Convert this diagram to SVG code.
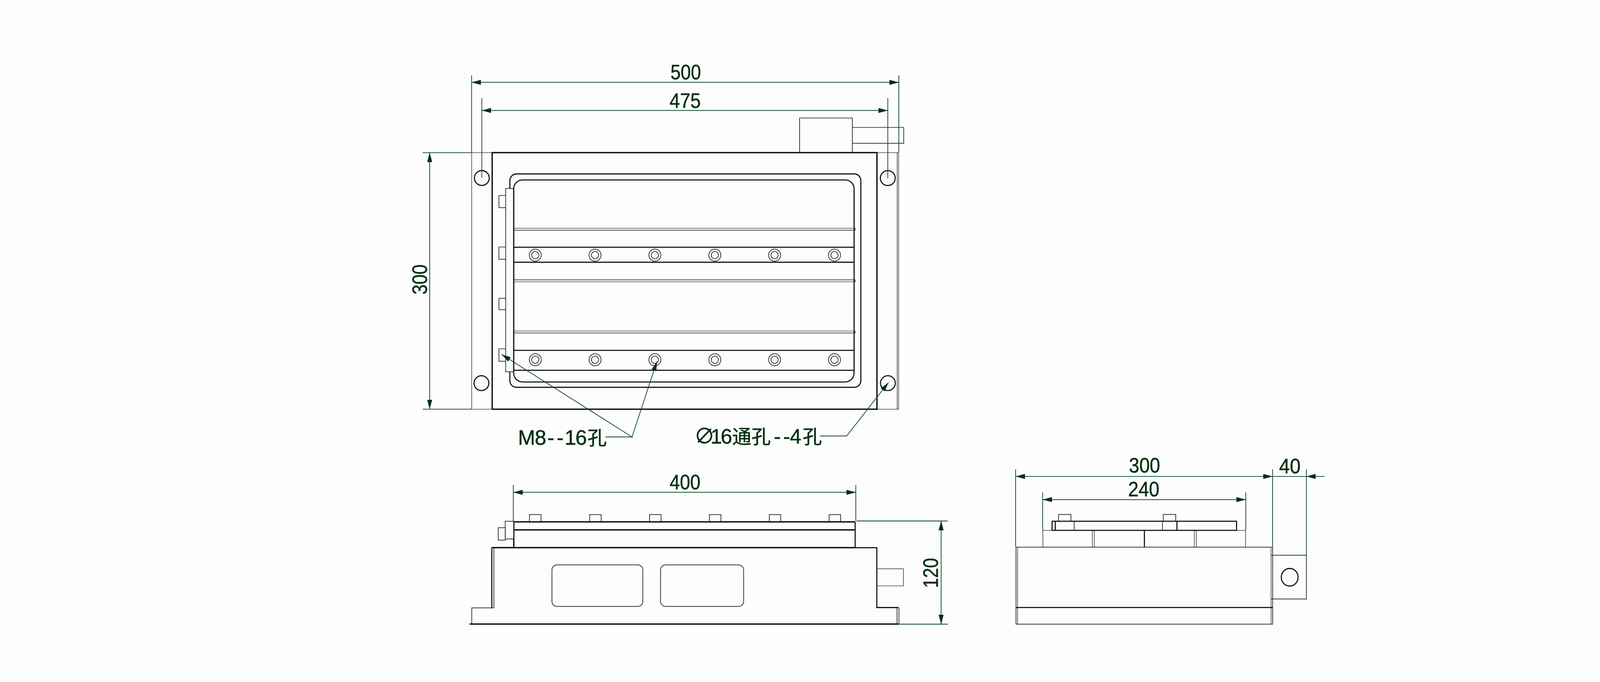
<svg xmlns="http://www.w3.org/2000/svg" width="4144" height="1745" viewBox="0 0 4144 1745">
<style>
.h{fill:none;stroke:#0d0d0d;stroke-width:3.4}
.m{fill:none;stroke:#111;stroke-width:2.8}
.t{fill:none;stroke:#1c1c1c;stroke-width:1.7}
.g{fill:none;stroke:#4a4a4a;stroke-width:1.7}
.d{fill:none;stroke:#22604a;stroke-width:2.2}
.e{fill:none;stroke:#0c4029;stroke-width:1.8}
.b{fill:#fbfbfb;stroke:#1c1c1c;stroke-width:1.7}
text{font-family:"Liberation Sans","Noto Sans CJK SC",sans-serif;font-size:53px;fill:#00300f;stroke:#00300f;stroke-width:.7}
.c{font-size:49px}
</style>
<defs>
<marker id="a" markerUnits="userSpaceOnUse" markerWidth="24" markerHeight="13" refX="24" refY="6.5" orient="auto-start-reverse"><path d="M0,0L24,6.5L0,13z" fill="#00300f"/></marker>
<g id="hole"><circle r="15.4" class="t"/><circle r="9.3" class="t"/></g>
</defs>
<rect width="4144" height="1745" fill="#fdfdfd"/>
<g id="top-view">
<path class="g" d="M1207.5 390.5H1260M1207.5 390.5V1047H1260M2245 390.5H2300.5V1047H2245M2296.8 390.5V1047"/>
<rect class="h" x="1260" y="390.5" width="985" height="656.5"/>
<path class="t" d="M2047 390V302H2182V390"/>
<path class="t" d="M2182 326H2313.5V366.7H2182"/>
<rect class="m" x="1305.2" y="445" width="898.6" height="546" rx="17"/>
<rect class="m" x="1315" y="460.3" width="871.5" height="517" rx="23"/>
<path class="g" d="M1315 584H2186.5M1315 721H2186.5M1315 847H2186.5"/>
<path class="t" d="M1315 589H2186.5M1315 716H2186.5M1315 852H2186.5M2186.5 584H2188.8V589H2186.5M2186.5 716H2188.8V721H2186.5M2186.5 847H2188.8V852H2186.5"/>
<path class="m" d="M1315 632.7H2186M1315 671H2186M1315 896.3H2186M1315 947.3H2186"/>
<rect class="b" x="1294.5" y="482.3" width="20.5" height="469"/>
<path class="m" d="M1315 482V951"/>
<path class="t" d="M1294.5 500H1277.3V531.3H1294.5M1294.5 632H1277.3V663.3H1294.5M1294.5 763.3H1277.3V792.3H1294.5M1294.5 892.5H1277.3V924.3H1294.5"/>
<g class="m"><circle cx="1233.5" cy="455.5" r="19"/><circle cx="2272.7" cy="455.7" r="19"/><circle cx="1232.5" cy="980.3" r="19"/><circle cx="2273" cy="980.3" r="19"/></g>
<use href="#hole" x="1370.3" y="652.7"/><use href="#hole" x="1523.3" y="652.7"/><use href="#hole" x="1676.5" y="652.7"/><use href="#hole" x="1830" y="652.7"/><use href="#hole" x="1983" y="652.7"/><use href="#hole" x="2136.3" y="652.7"/>
<use href="#hole" x="1370.3" y="920.5"/><use href="#hole" x="1523.3" y="920.5"/><use href="#hole" x="1676.5" y="920.5"/><use href="#hole" x="1830" y="920.5"/><use href="#hole" x="1983" y="920.5"/><use href="#hole" x="2136.3" y="920.5"/>
</g>
<g id="front-view">
<path class="t" d="M1355.4 1335V1316.7H1385V1335M1509.5 1335V1316.7H1539V1335M1663 1335V1316.7H1692.5V1335M1816 1335V1316.7H1845.6V1335M1969.5 1335V1316.7H1998.6V1335M2122.6 1335V1316.7H2152V1335"/>
<path class="h" d="M1315.3 1335.3H2189.2M1315.3 1355.7H2189.2M1315.3 1335.3V1401.3M1259 1401.3H2189.2"/>
<path class="m" d="M2189.2 1335.3V1401.3H2244.7V1554.5H2300"/>
<rect class="b" x="1293.4" y="1333.7" width="21.6" height="45.3"/>
<rect class="b" x="1275.5" y="1350.3" width="17.9" height="31.7"/>
<path class="m" d="M1259 1401.3V1555.3"/>
<path class="t" d="M1264.4 1401.3V1555.3H1207.7V1596.7"/>
<path class="h" d="M1202.3 1596.7H2301.7"/>
<path class="t" d="M2296.4 1554.5V1596.7M2301.3 1554.5V1596.7"/>
<rect class="t" x="1413" y="1445.3" width="232.6" height="106.4" rx="13"/>
<rect class="t" x="1691" y="1445.3" width="212.7" height="106.4" rx="13"/>
<path class="g" d="M2245 1455.3H2312.8V1499H2245"/>
</g>
<g id="side-view">
<path class="t" d="M2709.8 1334V1316.3H2741.6V1334M2978 1334V1316.3H3009.8V1334"/>
<path class="g" d="M2669.7 1357V1400M3188.6 1357H2669.7M3188.6 1357V1400M2796.4 1357V1400M2801.4 1357V1400M3057.5 1357V1400M3062.5 1357V1400"/>
<path class="m" d="M2929.7 1357V1400"/>
<rect class="m" x="2693.3" y="1333.7" width="472.3" height="23.3"/>
<path class="m" d="M2701.5 1333.7V1357M3013 1333.7V1357"/>
<path class="t" d="M2749.8 1333.7V1357M2975.8 1333.7V1357"/>
<rect class="t" x="2601" y="1400" width="657" height="197"/>
<path class="g" d="M2605 1400V1597M3254 1400V1597"/>
<path class="m" d="M2601 1554.3H3258"/>
<path class="t" d="M3254 1420.7H3344.4V1532.7H3254"/>
<ellipse class="m" cx="3301.6" cy="1477" rx="21.5" ry="22.5"/>
</g>
<g id="connectors">
<path class="e" d="M1207.3 193V390M2301 193V390M1233.4 251V455M2272.7 251V456M1082 390.7H1207M1082 1046.8H1207"/>
<path class="d" d="M1207.3 210.7H2301" marker-start="url(#a)" marker-end="url(#a)"/>
<path class="d" d="M1233.4 282.7H2272.7" marker-start="url(#a)" marker-end="url(#a)"/>
<path class="d" d="M1100 390.7V1046.8" marker-start="url(#a)" marker-end="url(#a)"/>
<path class="e" d="M1550 1118H1618L1283.8 906.7" marker-end="url(#a)"/>
<path class="e" d="M1618 1118L1681.7 925" marker-end="url(#a)"/>
<path class="e" d="M2098.7 1115.5H2167.4L2274.5 978.7" marker-end="url(#a)"/>
<path class="e" d="M1314 1240.7V1333M2190.8 1240.7V1333M2193 1333H2426M2303 1597H2426"/>
<path class="d" d="M1314 1259.7H2190.8" marker-start="url(#a)" marker-end="url(#a)"/>
<path class="d" d="M2409.3 1333V1597" marker-start="url(#a)" marker-end="url(#a)"/>
<path class="e" d="M2600 1201V1399M3257.8 1201V1400M3344.4 1201V1420M2669.2 1260V1357M3189.2 1260V1357"/>
<path class="d" d="M2600 1219H3257.8" marker-start="url(#a)" marker-end="url(#a)"/>
<path class="d" d="M2669.2 1278.3H3189.2" marker-start="url(#a)" marker-end="url(#a)"/>
<path class="d" d="M3257.8 1219H3344.4"/>
<path class="d" d="M3391.6 1219H3344.4" marker-end="url(#a)"/>
</g>
<g id="labels">
<text x="1755.5" y="203" text-anchor="middle" textLength="78" lengthAdjust="spacingAndGlyphs">500</text>
<text x="1754" y="275.7" text-anchor="middle" textLength="80" lengthAdjust="spacingAndGlyphs">475</text>
<text transform="translate(1092.7 715) rotate(-90)" text-anchor="middle" textLength="77" lengthAdjust="spacingAndGlyphs">300</text>
<text y="1137.7" x="1326 1369 1401.3 1425.3 1445.5 1473">M8--16<tspan class="c" x="1504">孔</tspan></text>
<text y="1135" x="1777 1819 1845">∅16<tspan class="c" x="1874.5 1924">通孔</tspan><tspan x="1981 2005 2022">--4</tspan><tspan class="c" x="2055">孔</tspan></text>
<text x="1753.7" y="1251.7" text-anchor="middle" textLength="79" lengthAdjust="spacingAndGlyphs">400</text>
<text transform="translate(2400.5 1466) rotate(-90)" text-anchor="middle" textLength="77" lengthAdjust="spacingAndGlyphs">120</text>
<text x="2930" y="1209.3" text-anchor="middle" textLength="80" lengthAdjust="spacingAndGlyphs">300</text>
<text x="2928" y="1270" text-anchor="middle" textLength="80" lengthAdjust="spacingAndGlyphs">240</text>
<text x="3302" y="1211.3" text-anchor="middle" textLength="55" lengthAdjust="spacingAndGlyphs">40</text>
</g>
</svg>
